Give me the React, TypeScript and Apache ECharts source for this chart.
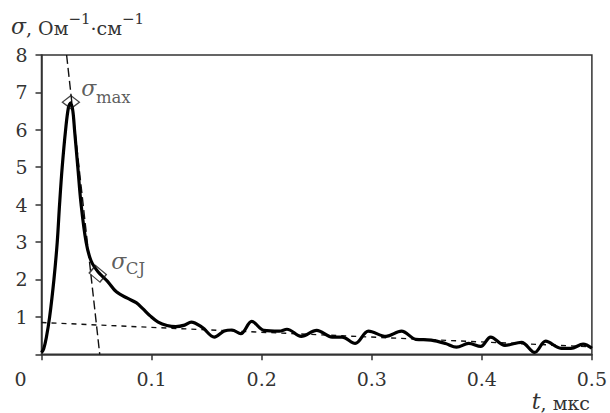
import React, { useEffect, useRef } from 'react';
import * as echarts from 'echarts';

// Conductivity curve sigma(t): t in microseconds, sigma in Ohm^-1 cm^-1
const tValues = [
  0, 0.002, 0.0044, 0.0074, 0.0113, 0.0143, 0.0164, 0.0188, 0.0219, 0.0245, 0.0265, 0.0285,
  0.030, 0.033, 0.036, 0.0405, 0.045, 0.0515, 0.060, 0.068, 0.078, 0.086, 0.092, 0.099,
  0.106, 0.114, 0.122, 0.130, 0.136, 0.146, 0.157, 0.166, 0.173, 0.181, 0.191, 0.202,
  0.216, 0.223, 0.236, 0.250, 0.264, 0.273, 0.285, 0.297, 0.313, 0.327, 0.340, 0.354,
  0.367, 0.377, 0.388, 0.399, 0.408, 0.421, 0.436, 0.448, 0.458, 0.472, 0.481, 0.492, 0.500,
];
const sigmaValues = [
  0.05, 0.15, 0.45, 1.0, 2.0, 3.0, 4.0, 5.0, 6.0, 6.6, 6.72, 6.5,
  6.0, 5.0, 4.0, 3.0, 2.5, 2.2, 1.95, 1.67, 1.5, 1.38, 1.22, 1.02,
  0.86, 0.77, 0.74, 0.78, 0.86, 0.72, 0.46, 0.62, 0.65, 0.55, 0.88, 0.64,
  0.62, 0.67, 0.48, 0.64, 0.46, 0.46, 0.29, 0.62, 0.48, 0.62, 0.40, 0.38,
  0.29, 0.19, 0.29, 0.21, 0.46, 0.24, 0.32, 0.05, 0.35, 0.16, 0.16, 0.27, 0.16,
];

// Marked points (open diamonds)
const markerT = [0.0267, 0.0511];
const markerSigma = [6.74, 2.15];
const markerSubs = ['max', 'CJ'];

// Dashed guide lines
const plateauT = [0, 0.5];
const plateauSigma = [0.85, 0.2];
const decayT = [0.0228, 0.0529];
const decaySigma = [8, 0];

// Axis ranges
const xRange = [0, 0.5, 0.1];
const yRange = [0, 8, 1];

const FONT = 'DejaVu Serif';
const TXT = '#333';

export default function App() {
  const ref = useRef<HTMLDivElement>(null);

  useEffect(() => {
    const chart = echarts.init(ref.current!, null, { renderer: 'svg' });
    const curve = tValues.map((t, i) => [t, sigmaValues[i]]);
    const symbols = ['diamond', 'rect'];
    const sizes = [[17, 13], [14, 10]];
    const rotations = [0, -40];
    const sigmaOffsets = [[-1, -14], [2, -12]];
    const subOffsets = [[14.5, -5], [17.5, -5]];
    const markerPoints = markerT.map((t, i) => ({
      value: [t, markerSigma[i]],
      symbol: symbols[i], symbolSize: sizes[i], symbolRotate: rotations[i],
      label: { offset: sigmaOffsets[i] },
    }));
    const subPoints = markerT.map((t, i) => ({
      value: [t, markerSigma[i]],
      symbol: symbols[i], symbolSize: sizes[i], symbolRotate: rotations[i],
      label: { formatter: markerSubs[i], offset: subOffsets[i] },
    }));

    chart.setOption({
      animation: false,
      backgroundColor: '#fff',
      grid: {
        left: 41.5, right: 15.7, top: 55, bottom: 58.7,
        show: true, borderColor: '#333', borderWidth: 1.5, backgroundColor: 'transparent',
      },
      xAxis: {
        type: 'value', min: xRange[0], max: xRange[1], interval: xRange[2],
        axisLine: { show: true, onZero: false, lineStyle: { color: '#333', width: 1.5 } },
        axisTick: { show: true, inside: false, length: 6, lineStyle: { color: '#333', width: 1.5 } },
        splitLine: { show: false },
        axisLabel: {
          margin: 15, fontFamily: FONT, fontSize: 19, color: TXT,
          formatter: (v: number) => (v === 0 ? '{z|0}' : v.toFixed(1)),
          rich: { z: { fontFamily: FONT, fontSize: 19, color: TXT, padding: [0, 42, 0, 0] } },
        },
      },
      yAxis: {
        type: 'value', min: yRange[0], max: yRange[1], interval: yRange[2],
        axisLine: { show: true, onZero: false, lineStyle: { color: '#333', width: 1.5 } },
        axisTick: { show: true, inside: false, length: 6, lineStyle: { color: '#333', width: 1.5 } },
        splitLine: { show: false },
        axisLabel: {
          margin: 14, fontFamily: FONT, fontSize: 19, color: TXT,
          formatter: (v: number) => (v === 0 ? '' : String(v)),
        },
      },
      series: [
        {
          type: 'line', data: plateauT.map((t, i) => [t, plateauSigma[i]]),
          symbol: 'none', lineStyle: { color: '#111', width: 1.4, type: [5, 5] }, z: 2,
        },
        {
          type: 'line', data: decayT.map((t, i) => [t, decaySigma[i]]),
          symbol: 'none', lineStyle: { color: '#111', width: 1.4, type: [9, 4] }, z: 2,
        },
        {
          type: 'line', data: curve, symbol: 'none', smooth: 0.35,
          lineStyle: { color: '#000', width: 3.2 }, z: 3,
        },
        {
          type: 'scatter', data: markerPoints,
          itemStyle: { color: 'transparent', borderColor: '#111', borderWidth: 1.3 },
          z: 4,
          label: {
            show: true, position: 'right', distance: 2, formatter: 'σ',
            fontFamily: FONT, fontStyle: 'italic', fontSize: 22, color: TXT,
          },
        },
        {
          type: 'scatter', data: subPoints,
          itemStyle: { color: 'transparent', borderColor: 'transparent', borderWidth: 0 },
          z: 4,
          label: {
            show: true, position: 'right', distance: 2,
            fontFamily: FONT, fontSize: 16.5, color: TXT,
          },
        },
      ],
      graphic: [
        {
          type: 'text', left: 11, top: 11,
          style: {
            text: '{s|σ}{n|, Ом}{p|−1}{n|·см}{p|−1}',
            rich: {
              s: { fontFamily: FONT, fontStyle: 'italic', fontSize: 22, fill: TXT, verticalAlign: 'bottom', lineHeight: 26 },
              n: { fontFamily: FONT, fontSize: 19, fill: TXT, verticalAlign: 'bottom', lineHeight: 26 },
              p: { fontFamily: FONT, fontSize: 15, fill: TXT, verticalAlign: 'top', lineHeight: 15 },
            },
          },
        },
        {
          type: 'text', right: 20, bottom: 1,
          style: {
            text: '{t|t}{n|, мкс}',
            rich: {
              t: { fontFamily: FONT, fontStyle: 'italic', fontSize: 22, fill: TXT, verticalAlign: 'bottom', lineHeight: 26 },
              n: { fontFamily: FONT, fontSize: 19, fill: TXT, verticalAlign: 'bottom', lineHeight: 26 },
            },
          },
        },
      ],
    });
    return () => chart.dispose();
  }, []);

  return <div ref={ref} style={{ position: 'fixed', left: 0, top: 0, width: 610, height: 413 }} />;
}
